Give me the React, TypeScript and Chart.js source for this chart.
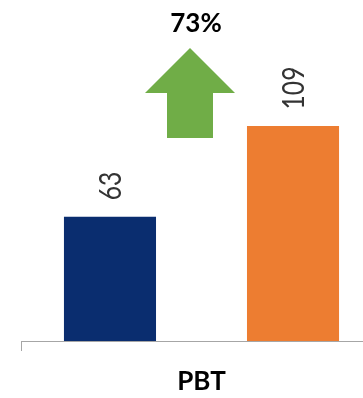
import React, { useEffect, useRef } from "react";
import { Chart, registerables } from "chart.js";

Chart.register(...registerables);

const categories = ["PBT"];
const seriesPrior = [63];
const seriesCurrent = [109];
const changeText = "73%";
const yMax = 150;

const NAVY = "#0A2D6F";
const ORANGE = "#ED7D31";
const GREEN = "#70AD47";
const AXIS_GRAY = "#A6A6A6";

const W = 390;
const H = 413;

const valueLabels = {
  id: "valueLabels",
  afterDatasetsDraw(chart: any) {
    const ctx = chart.ctx;
    ctx.save();
    ctx.fillStyle = "#333333";
    ctx.font = "30px Lato";
    ctx.textAlign = "left";
    ctx.textBaseline = "alphabetic";
    chart.data.datasets.forEach((ds: any, di: number) => {
      const meta = chart.getDatasetMeta(di);
      meta.data.forEach((el: any, i: number) => {
        const v = ds.data[i];
        ctx.save();
        ctx.translate(el.x + 11, el.y - 16.5);
        ctx.rotate(-Math.PI / 2);
        ctx.scale(0.82, 1);
        ctx.fillText(String(v), 0, 0);
        ctx.restore();
      });
    });
    ctx.restore();
  },
};

const changeArrow = {
  id: "changeArrow",
  afterDatasetsDraw(chart: any) {
    const ctx = chart.ctx;
    const area = chart.chartArea;
    const cx = (area.left + area.right) / 2 - 11.5;
    const tip = area.top + 3;
    const headBase = area.top + 48;
    const bottom = area.top + 93;
    const halfHead = 45;
    const halfShaft = 23;
    ctx.save();
    ctx.fillStyle = GREEN;
    ctx.beginPath();
    ctx.moveTo(cx, tip);
    ctx.lineTo(cx + halfHead, headBase);
    ctx.lineTo(cx + halfShaft, headBase);
    ctx.lineTo(cx + halfShaft, bottom);
    ctx.lineTo(cx - halfShaft, bottom);
    ctx.lineTo(cx - halfShaft, headBase);
    ctx.lineTo(cx - halfHead, headBase);
    ctx.closePath();
    ctx.fill();
    ctx.fillStyle = "#000000";
    ctx.font = "bold 26px Lato";
    ctx.textAlign = "center";
    ctx.textBaseline = "alphabetic";
    ctx.fillText(changeText, cx + 6, 32);
    ctx.restore();
  },
};

export default function App() {
  const ref = useRef<HTMLCanvasElement | null>(null);
  useEffect(() => {
    if (!ref.current) return;
    const chart = new Chart(ref.current, {
      type: "bar",
      data: {
        labels: categories,
        datasets: [
          {
            label: "Prior",
            data: seriesPrior,
            backgroundColor: NAVY,
            categoryPercentage: 1.014,
            barPercentage: 0.503,
          },
          {
            label: "Current",
            data: seriesCurrent,
            backgroundColor: ORANGE,
            categoryPercentage: 1.014,
            barPercentage: 0.503,
          },
        ],
      },
      options: {
        responsive: false,
        animation: false,
        devicePixelRatio: 1,
        layout: { padding: { left: 21, right: 8, top: 45, bottom: 0 } },
        plugins: {
          legend: { display: false },
          title: { display: false },
          tooltip: { enabled: false },
        },
        scales: {
          x: {
            offset: true,
            border: { display: true, color: AXIS_GRAY, width: 1 },
            grid: {
              display: true,
              drawOnChartArea: false,
              drawTicks: true,
              tickLength: 10,
              offset: true,
              color: (c: any) => (c.index === 0 ? AXIS_GRAY : "rgba(0,0,0,0)"),
            },
            ticks: {
              color: "#000000",
              font: { family: "Lato", size: 26, weight: "bold" },
              padding: 15.4,
            },
          },
          y: {
            display: false,
            min: 0,
            max: yMax,
          },
        },
      },
      plugins: [valueLabels, changeArrow],
    });
    return () => chart.destroy();
  }, []);
  return (
    <div
      style={{
        position: "fixed",
        left: 0,
        top: 0,
        width: 363,
        height: 398,
        overflow: "hidden",
        background: "#ffffff",
      }}
    >
      <canvas ref={ref} width={W} height={H} style={{ width: W, height: H, display: "block" }} />
    </div>
  );
}
